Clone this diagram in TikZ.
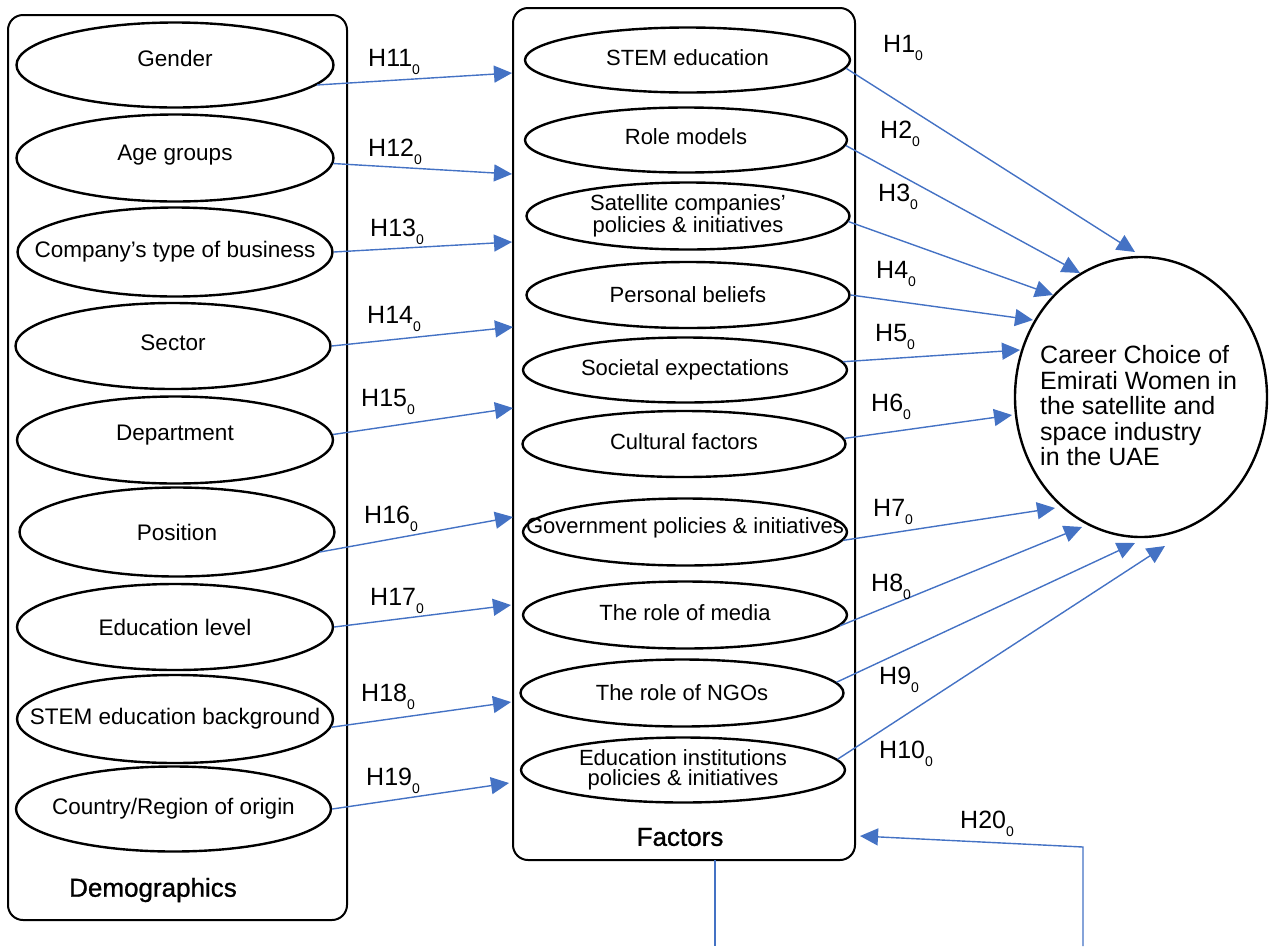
\documentclass[tikz,border=0pt]{standalone}
\usepackage{fontspec}
\setmainfont{Liberation Sans}
\newfontfamily\grpfont[FakeBold=1]{Liberation Sans}
\usetikzlibrary{shapes.geometric,arrows.meta,calc}
\definecolor{arrowblue}{HTML}{4472C4}
\newcommand{\hlab}[1]{H#1\raisebox{-8pt}{\fontsize{14}{14}\selectfont 0}}
\tikzset{
  groupbox/.style={draw=black,line width=2pt,rounded corners=15pt,inner sep=0pt},
  ell/.style={draw=black,line width=2.4pt,ellipse,inner sep=0pt},
  elltext/.style={font=\fontsize{22.5}{22.5}\selectfont,align=center,inner sep=0pt},
  facttext/.style={font=\fontsize{22}{20.5}\selectfont,align=center,inner sep=0pt},
  grouplabel/.style={font=\grpfont\fontsize{26}{26}\selectfont,inner sep=0pt},
  hyp/.style={font=\fontsize{25}{25}\selectfont,inner sep=0pt,anchor=base west},
  link/.style={draw=arrowblue,line width=1.4pt,-{Triangle[length=18pt,width=17pt]}},
  plain/.style={draw=arrowblue,line width=1.4pt},
  target/.style={draw=black,line width=2.4pt,ellipse,inner sep=0pt,minimum width=252pt,minimum height=280pt}
}
\begin{document}
\begin{tikzpicture}[x=1pt,y=-1pt]
\useasboundingbox (0,0) rectangle (1269,946);

% group boxes
\node[groupbox,minimum width=339pt,minimum height=905pt] (D) at (177.5,467.5) {};
\node[groupbox,minimum width=342pt,minimum height=852pt] (F) at (684,434) {};
\node[grouplabel] (Dlab) at (153,890) {Demographics};
\node[grouplabel] (Flab) at (680,837) {Factors};

% demographic ellipses
\node[ell,minimum width=317pt,minimum height=85pt,label={[elltext,yshift=7pt]center:Gender}] (d1) at (175,65) {};
\node[ell,minimum width=317pt,minimum height=87pt,label={[elltext,yshift=3pt]center:Age groups}] (d2) at (175,158) {};
\node[ell,minimum width=315pt,minimum height=89pt,label={[elltext]center:Company’s type of business}] (d3) at (175,252) {};
\node[ell,minimum width=315pt,minimum height=86pt,label={[elltext,yshift=3pt]center:Sector}] (d4) at (173,346) {};
\node[ell,minimum width=316pt,minimum height=87pt,label={[elltext,yshift=5pt]center:Department}] (d5) at (175,440) {};
\node[ell,minimum width=315pt,minimum height=89pt,label={[elltext]center:Position}] (d6) at (177,532) {};
\node[ell,minimum width=316pt,minimum height=86pt,label={[elltext]center:Education level}] (d7) at (175,627) {};
\node[ell,minimum width=316pt,minimum height=88pt,label={[elltext]center:STEM education background}] (d8) at (175,719) {};
\node[ell,minimum width=315pt,minimum height=85pt,label={[elltext]center:Country/Region of origin}] (d9) at (173.5,809) {};

% factor ellipses
\node[ell,minimum width=325pt,minimum height=65pt,label={[facttext,yshift=2pt]center:STEM education}] (f1) at (687.5,60) {};
\node[ell,minimum width=322pt,minimum height=65pt,label={[facttext,yshift=3pt]center:Role models}] (f2) at (686,140) {};
\node[ell,minimum width=323pt,minimum height=67pt,label={[facttext]center:Satellite companies’\\policies \& initiatives}] (f3) at (688,216) {};
\node[ell,minimum width=323pt,minimum height=66pt,label={[facttext]center:Personal beliefs}] (f4) at (688,295) {};
\node[ell,minimum width=324pt,minimum height=65pt,label={[facttext]center:Societal expectations}] (f5) at (685,370) {};
\node[ell,minimum width=323pt,minimum height=66pt,label={[facttext,yshift=2pt]center:Cultural factors}] (f6) at (684,444) {};
\node[ell,minimum width=324pt,minimum height=67pt,label={[facttext,yshift=4pt]center:Government policies \& initiatives}] (f7) at (685,532) {};
\node[ell,minimum width=324pt,minimum height=67pt,label={[facttext,yshift=2pt]center:The role of media}] (f8) at (685,615) {};
\node[ell,minimum width=323pt,minimum height=67pt,label={[facttext]center:The role of NGOs}] (f9) at (682,693) {};
\node[ell,minimum width=324pt,minimum height=65pt,label={[facttext]center:Education institutions\\policies \& initiatives}] (f10) at (683,770) {};

% target
\node[target] (C) at (1141,397) {};
\node[font=\fontsize{25}{25.5}\selectfont,align=left,anchor=west,inner sep=0pt] (Ctext) at (1040,406)
  {Career Choice of\\Emirati Women in\\the satellite and\\space industry\\in the UAE};

% arrow tips
\coordinate (t1) at (1135,252);
\coordinate (t2) at (1080,273);
\coordinate (t3) at (1053,295);
\coordinate (t4) at (1033,320);
\coordinate (t5) at (1020,350);
\coordinate (t6) at (1012,415);
\coordinate (t7) at (1055,508);
\coordinate (t8) at (1082,527);
\coordinate (t9) at (1135,543);
\coordinate (t10) at (1165,546);
\coordinate (t11) at (512,73);
\coordinate (t12) at (512,174);
\coordinate (t13) at (512,242);
\coordinate (t14) at (513,327);
\coordinate (t15) at (513,408);
\coordinate (t16) at (513,517);
\coordinate (t17) at (511,605);
\coordinate (t18) at (511,702);
\coordinate (t19) at (509,783);

% demographic -> factors
\draw[link] (d1.-8) -- (t11);
\draw[link] (d2.-2) -- (t12);
\draw[link] (d3.east) -- (t13);
\draw[link] (d4.east) -- (t14);
\draw[link] (d5.2) -- (t15);
\draw[link] (d6.-8) -- (t16);
\draw[link] (d7.east) -- (t17);
\draw[link] (d8.-3) -- (t18);
\draw[link] (d9.east) -- (t19);

% factors -> career choice
\draw[link] (f1.-3) -- (t1);
\draw[link] (f2.-2) -- (t2);
\draw[link] (f3.-2) -- (t3);
\draw[link] (f4.east) -- (t4);
\draw[link] (f5.3) -- (t5);
\draw[link] (f6.2) -- (t6);
\draw[link] (f7.-3) -- (t7);
\draw[link] (f8.-4) -- (t8);
\draw[link] (f9.4) -- (t9);
\draw[link] (f10.4) -- (t10);

% H20 loop
\coordinate (fb) at (715,860);
\coordinate (b1) at (715,946);
\coordinate (b2) at (1083,946);
\coordinate (b3) at (1083,847);
\coordinate (t20) at (860,836);
\draw[plain] (fb) -- (b1);
\draw[link] (b2) -- (b3) -- (t20);

% hypothesis labels
\node[hyp] (h1) at (883,52) {\hlab{1}};
\node[hyp] (h2) at (880,138) {\hlab{2}};
\node[hyp] (h3) at (878,201) {\hlab{3}};
\node[hyp] (h4) at (876,278) {\hlab{4}};
\node[hyp] (h5) at (875,341) {\hlab{5}};
\node[hyp] (h6) at (871,411) {\hlab{6}};
\node[hyp] (h7) at (873,516) {\hlab{7}};
\node[hyp] (h8) at (871,591) {\hlab{8}};
\node[hyp] (h9) at (879,684) {\hlab{9}};
\node[hyp] (h10) at (879,758) {\hlab{10}};
\node[hyp] (h11) at (368,66) {\hlab{11}};
\node[hyp] (h12) at (368,156) {\hlab{12}};
\node[hyp] (h13) at (370,236) {\hlab{13}};
\node[hyp] (h14) at (367,323) {\hlab{14}};
\node[hyp] (h15) at (361,406) {\hlab{15}};
\node[hyp] (h16) at (364,523) {\hlab{16}};
\node[hyp] (h17) at (370,605) {\hlab{17}};
\node[hyp] (h18) at (361,701) {\hlab{18}};
\node[hyp] (h19) at (366,785) {\hlab{19}};
\node[hyp] (h20) at (960,828) {\hlab{20}};
\end{tikzpicture}
\end{document}
